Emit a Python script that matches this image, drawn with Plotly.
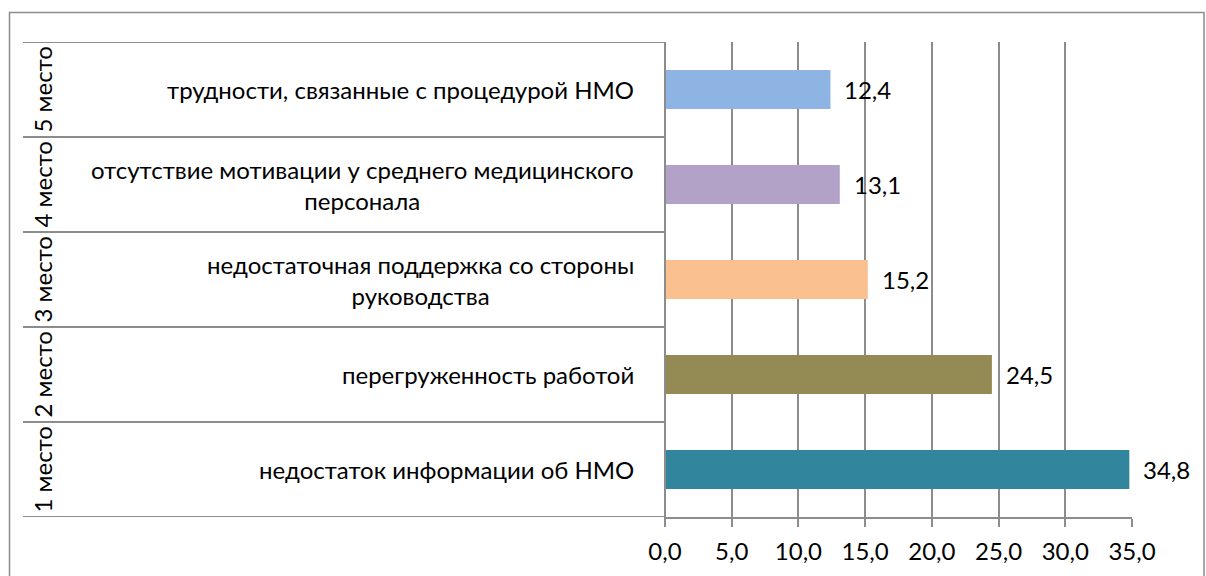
import plotly.graph_objects as go

# Ranks (bottom to top), reasons and their shares, %
ranks = ["1 место", "2 место", "3 место", "4 место", "5 место"]
reasons = [
    "недостаток информации об НМО",
    "перегруженность работой",
    "недостаточная поддержка со стороны<br>руководства",
    "отсутствие мотивации у среднего медицинского<br>персонала",
    "трудности, связанные с процедурой НМО",
]
values = [34.8, 24.5, 15.2, 13.1, 12.4]
colors = ["#31859C", "#948A54", "#FAC090", "#B3A2C7", "#8EB4E3"]
tick_values = [0, 5, 10, 15, 20, 25, 30, 35]

W, H = 1206, 576
L, R, T, B = 665, 1132, 42, 517  # plot area in pixels
FONT = "Lato"
FS = 24
GRID = "#8C8C8C"

fig = go.Figure(
    go.Bar(
        x=values,
        y=ranks,
        orientation="h",
        marker=dict(color=colors, line=dict(width=0)),
        width=0.41,
        hoverinfo="skip",
    )
)


def px_x(p):
    return (p - L) / (R - L)


def px_y(p):
    return (B - p) / (B - T)


annotations = []
shapes = []
for rank, reason, v in zip(ranks, reasons, values):
    # value label to the right of the bar
    annotations.append(dict(
        x=v, y=rank, xref="x", yref="y", xanchor="left", yanchor="middle",
        xshift=12, text=f"{v:.1f}".replace(".", ","), showarrow=False,
        font=dict(family=FONT, size=FS, color="#000000"),
    ))
    # reason text
    annotations.append(dict(
        x=px_x(636), y=rank, xref="paper", yref="y", xanchor="right",
        yanchor="middle", align="center", text=reason, showarrow=False,
        font=dict(family=FONT, size=FS, color="#000000"),
    ))
    # rotated rank label
    annotations.append(dict(
        x=px_x(42), y=rank, xref="paper", yref="y", xanchor="center",
        yanchor="middle", textangle=-90, text=rank, showarrow=False,
        font=dict(family=FONT, size=FS, color="#000000"),
    ))

# separators of the category table
for k in range(len(ranks) + 1):
    shapes.append(dict(
        type="line", xref="paper", yref="y", x0=px_x(23), x1=0,
        y0=k - 0.5, y1=k - 0.5, line=dict(color=GRID, width=2),
    ))
# left axis line
shapes.append(dict(type="line", xref="paper", yref="paper", x0=0, x1=0,
                   y0=px_y(525), y1=1, line=dict(color=GRID, width=2)))
# outer frame
shapes.append(dict(type="rect", xref="paper", yref="paper",
                   x0=px_x(9.5), x1=px_x(1204), y0=px_y(590), y1=px_y(12.5),
                   line=dict(color="#8C8C8C", width=1.5), fillcolor="rgba(0,0,0,0)"))

fig.update_layout(
    width=W, height=H,
    margin=dict(l=L, r=W - R, t=T, b=H - B),
    paper_bgcolor="white", plot_bgcolor="white",
    separators=", ",
    showlegend=False,
    bargap=0.59,
    annotations=annotations,
    shapes=shapes,
    xaxis=dict(
        range=[0, 35], tickvals=tick_values, tickformat=".1f",
        showgrid=True, gridcolor=GRID, gridwidth=2,
        showline=True, linecolor=GRID, linewidth=2,
        ticks="outside", ticklen=8, tickcolor=GRID, tickwidth=2,
        ticklabelstandoff=4,
        tickfont=dict(family=FONT, size=FS, color="#000000"),
        zeroline=False, fixedrange=True,
    ),
    yaxis=dict(
        categoryorder="array", categoryarray=ranks,
        showticklabels=False, showgrid=False, zeroline=False,
        range=[-0.5, len(ranks) - 0.5], fixedrange=True,
    ),
)

fig.write_html("out.html")
